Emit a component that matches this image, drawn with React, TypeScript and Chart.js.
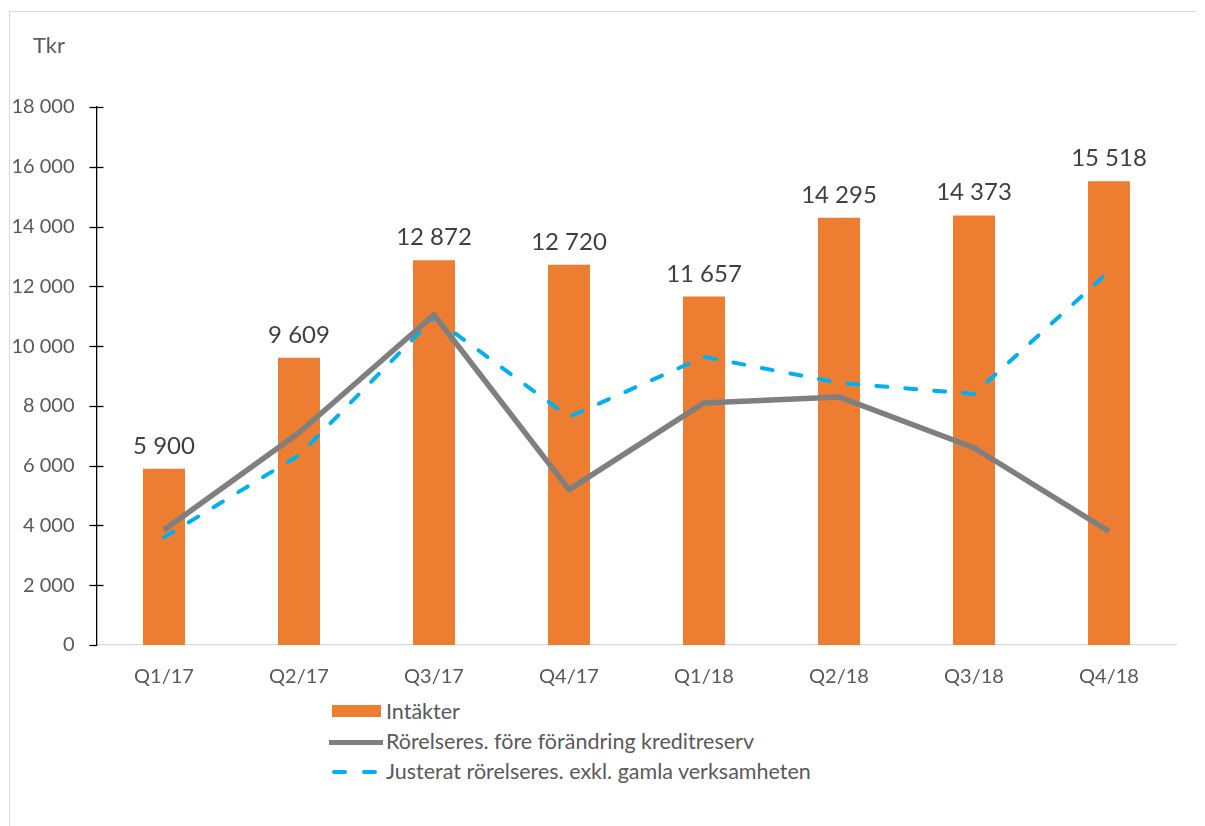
import React, { useEffect, useRef } from "react";
import { Chart, registerables } from "chart.js";

Chart.register(...registerables);

const categories = ["Q1/17", "Q2/17", "Q3/17", "Q4/17", "Q1/18", "Q2/18", "Q3/18", "Q4/18"];
const revenue = [5900, 9609, 12872, 12720, 11657, 14295, 14373, 15518];
const operatingResult = [3850, 7100, 11050, 5200, 8100, 8300, 6600, 3800];
const adjustedResult = [3600, 6350, 10950, 7630, 9640, 8770, 8400, 12500];
const seriesNames = [
  "Intäkter",
  "Rörelseres. före förändring kreditreserv",
  "Justerat rörelseres. exkl. gamla verksamheten",
];
const unitLabel = "Tkr";

const ORANGE = "#ED7D31";
const GRAY = "#7F7F7F";
const BLUE = "#00B0F0";
const FONT = "Lato";

const fmt = (v: number) => {
  const s = Math.round(v).toString();
  return s.replace(/\B(?=(\d{3})+(?!\d))/g, " ");
};

const decorPlugin = {
  id: "decor",
  afterDatasetsDraw(chart: any) {
    const ctx = chart.ctx;
    const meta = chart.getDatasetMeta(0);
    ctx.save();
    ctx.fillStyle = "#404040";
    ctx.font = `24px ${FONT}`;
    ctx.textAlign = "center";
    ctx.textBaseline = "alphabetic";
    meta.data.forEach((bar: any, i: number) => {
      ctx.fillText(fmt(revenue[i]), bar.x, bar.y - 15);
    });
    ctx.restore();
  },
  afterDraw(chart: any) {
    const ctx = chart.ctx;
    const y = chart.scales.y;
    const x0 = chart.chartArea.left;
    ctx.save();
    ctx.strokeStyle = "#000000";
    ctx.lineWidth = 1.3;
    y.ticks.forEach((t: any) => {
      const py = Math.round(y.getPixelForValue(t.value)) + 0.5;
      ctx.beginPath();
      ctx.moveTo(x0 - 7, py);
      ctx.lineTo(t.value === 0 ? x0 : x0 + 7, py);
      ctx.stroke();
    });
    ctx.restore();
  },
};

export default function App() {
  const ref = useRef<HTMLCanvasElement | null>(null);

  useEffect(() => {
    if (!ref.current) return;
    const chart = new Chart(ref.current, {
      type: "bar",
      data: {
        labels: categories,
        datasets: [
          {
            type: "bar",
            label: seriesNames[0],
            data: revenue,
            backgroundColor: ORANGE,
            borderWidth: 0,
            barPercentage: 1,
            categoryPercentage: 0.311,
            order: 3,
          },
          {
            type: "line",
            label: seriesNames[2],
            data: adjustedResult,
            borderColor: BLUE,
            borderWidth: 4,
            borderDash: [11, 18],
            borderCapStyle: "round",
            borderJoinStyle: "round",
            pointRadius: 0,
            tension: 0,
            order: 2,
          },
          {
            type: "line",
            label: seriesNames[1],
            data: operatingResult,
            borderColor: GRAY,
            borderWidth: 5.5,
            borderCapStyle: "butt",
            borderJoinStyle: "round",
            pointRadius: 0,
            tension: 0,
            order: 1,
          },
        ] as any,
      },
      options: {
        animation: false,
        responsive: false,
        maintainAspectRatio: false,
        layout: { padding: { left: 0, right: 28.5, top: 99, bottom: 0 } },
        plugins: {
          legend: { display: false },
          tooltip: { enabled: false },
          title: { display: false },
        },
        scales: {
          x: {
            grid: { display: false, drawTicks: false },
            border: { display: true, color: "#D9D9D9", width: 1.3 },
            ticks: {
              color: "#595959",
              font: { family: FONT, size: 20 },
              padding: 20,
              maxRotation: 0,
            },
            afterFit: (s: any) => {
              s.height = 43;
            },
          },
          y: {
            min: 0,
            max: 18000,
            grid: { display: false, drawTicks: false },
            border: { display: true, color: "#000000", width: 1.3 },
            ticks: {
              stepSize: 2000,
              color: "#595959",
              font: { family: FONT, size: 20 },
              padding: 22,
              callback: (v: any) => fmt(Number(v)),
            },
            afterFit: (s: any) => {
              s.width = 88.5;
            },
          },
        },
      },
      plugins: [decorPlugin],
    });
    return () => chart.destroy();
  }, []);

  const textStyle: React.CSSProperties = {
    position: "absolute",
    fontFamily: FONT,
    fontSize: 21.5,
    color: "#595959",
    lineHeight: "20px",
    whiteSpace: "nowrap",
  };

  return (
    <div style={{ position: "relative", width: 1197, height: 818, overflow: "hidden" }}>
      <div
        style={{
          position: "absolute",
          left: 1,
          top: 3,
          width: 1300,
          height: 900,
          border: "1px solid #D9D9D9",
        }}
      />
      <canvas
        ref={ref}
        width={1197}
        height={680}
        style={{ position: "absolute", left: 0, top: 0, width: 1197, height: 680 }}
      />
      <div style={{ ...textStyle, left: 25, top: 26, fontSize: 22, lineHeight: "22px" }}>{unitLabel}</div>
      {/* legend */}
      <div style={{ position: "absolute", left: 324, top: 697, width: 49, height: 12, background: ORANGE }} />
      <div style={{ ...textStyle, left: 378, top: 693 }}>{seriesNames[0]}</div>
      <div style={{ position: "absolute", left: 321, top: 731.5, width: 54, height: 5, background: GRAY }} />
      <div style={{ ...textStyle, left: 378, top: 723 }}>{seriesNames[1]}</div>
      <div style={{ position: "absolute", left: 324, top: 762, width: 15, height: 4, borderRadius: 2, background: BLUE }} />
      <div style={{ position: "absolute", left: 354, top: 762, width: 15, height: 4, borderRadius: 2, background: BLUE }} />
      <div style={{ ...textStyle, left: 378, top: 753 }}>{seriesNames[2]}</div>
    </div>
  );
}
